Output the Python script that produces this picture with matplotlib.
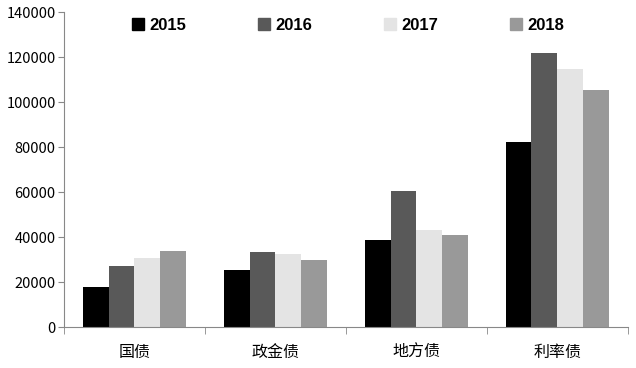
import numpy as np
import matplotlib
matplotlib.use("Agg")
import matplotlib.pyplot as plt
from matplotlib.patches import Patch

plt.rcParams['font.family'] = ['Noto Sans CJK SC', 'DejaVu Sans']

categories = ['国债', '政金债', '地方债', '利率债']
years = ['2015', '2016', '2017', '2018']
v2015 = [17800, 25300, 38700, 82200]
v2016 = [27100, 33300, 60400, 121800]
v2017 = [30700, 32400, 43100, 114700]
v2018 = [33800, 29800, 40900, 105300]
colors = ['#000000', '#595959', '#e4e4e4', '#999999']

fig = plt.figure(figsize=(6.36, 3.68), dpi=100)
ax = fig.add_axes([0.1006, 0.111, 0.8864, 0.856])

x = np.arange(len(categories))
w = 0.183
series = [v2015, v2016, v2017, v2018]
for i, vals in enumerate(series):
    ax.bar(x + (i - 1.5) * w, vals, w, color=colors[i], label=years[i])

ax.set_xlim(-0.5, 3.5)
ax.set_ylim(0, 140000)
ax.set_yticks(np.arange(0, 140001, 20000))
ax.tick_params(axis='y', labelsize=10.5, length=4, color='#888888', pad=2)
ax.set_xticks(x)
ax.set_xticklabels(categories)
ax.tick_params(axis='x', labelsize=11.5, length=0, pad=12)
ax.set_xticks(np.arange(-0.5, 4, 1), minor=True)
ax.tick_params(axis='x', which='minor', length=5, color='#888888')

for s in ['top', 'right']:
    ax.spines[s].set_visible(False)
for s in ['left', 'bottom']:
    ax.spines[s].set_color('#888888')

handles = [Patch(color=c) for c in colors]
leg = ax.legend(handles, years, loc='upper center', ncol=4, frameon=False,
                bbox_to_anchor=(0.504, 1.03), handlelength=0.7, handleheight=0.8,
                handletextpad=0.3, columnspacing=4.35,
                prop={'weight': 'bold', 'size': 12, 'family': 'Liberation Sans'})

fig.savefig('out.png', dpi=100)
